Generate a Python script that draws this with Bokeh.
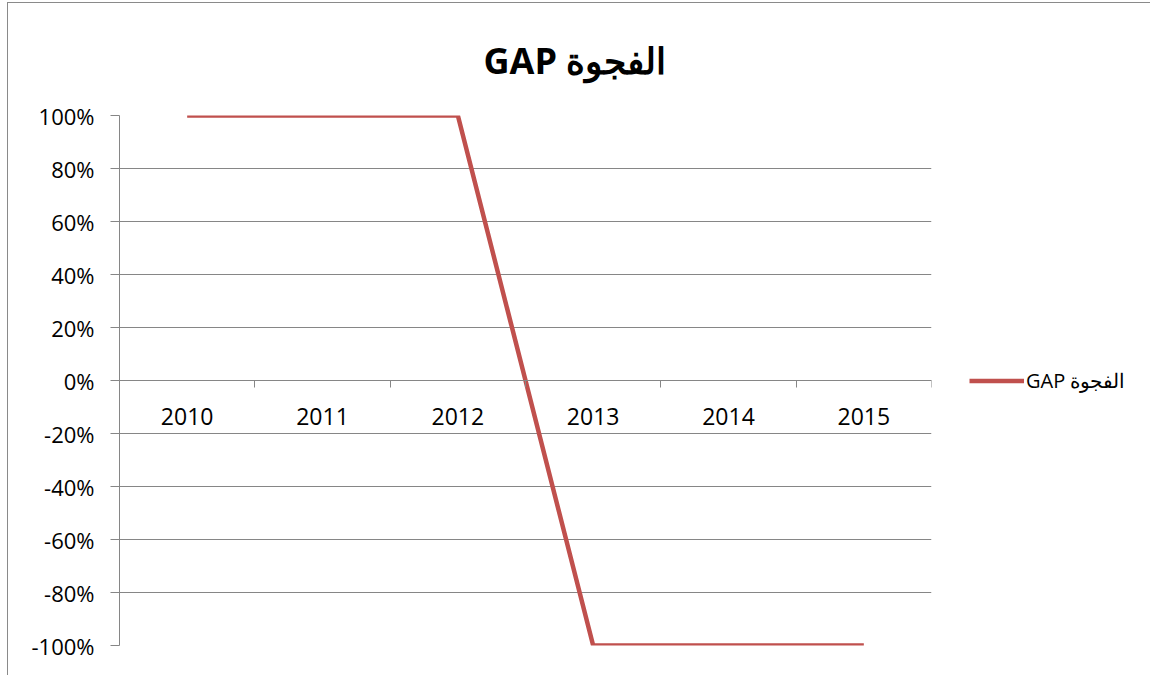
from bokeh.plotting import figure
from bokeh.models import (LinearAxis, FixedTicker, NumeralTickFormatter, Legend,
                          LegendItem, Range1d)
from bokeh.embed import file_html
from bokeh.resources import INLINE

# ---- data ----
years = ["2010", "2011", "2012", "2013", "2014", "2015"]
gap = [1.0, 1.0, 1.0, -1.0, -1.0, -1.0]
y_ticks = [-1.0, -0.8, -0.6, -0.4, -0.2, 0.0, 0.2, 0.4, 0.6, 0.8, 1.0]
series_name = "\u202Bالفجوة GAP\u202C"
title_text = "\u202Bالفجوة GAP\u202C"

idx = list(range(len(years)))
boundaries = [i + 0.5 for i in idx]

GRID = "#868686"
LINE = "#C0504D"
FONT = "Open Sans"

p = figure(frame_width=812, frame_height=530, output_backend="svg", toolbar_location=None,
           x_range=Range1d(-0.5, len(years) - 0.5), y_range=Range1d(-1.0, 1.0),
           min_border_left=111, min_border_right=220, min_border_top=111,
           min_border_bottom=30, x_axis_location=None, y_axis_location=None)

p.background_fill_color = "white"
p.border_fill_color = "white"
p.outline_line_color = None
p.styles = {"border-left": "1px solid #8a8a8a", "border-top": "1px solid #8a8a8a",
            "border-bottom": "1px solid #8a8a8a", "margin-left": "7px",
            "margin-top": "2px"}

# title
p.title.text = title_text
p.title.align = "left"
p.title.offset = 364
p.title.text_font = FONT
p.title.text_font_size = "36px"
p.title.text_font_style = "bold"
p.title.text_color = "black"
p.title.standoff = 61

# y axis
yax = LinearAxis(ticker=FixedTicker(ticks=y_ticks),
                 formatter=NumeralTickFormatter(format="0%"))
yax.axis_line_color = GRID
yax.axis_line_width = 1
yax.major_tick_line_color = GRID
yax.major_tick_out = 9
yax.major_tick_in = 0
yax.minor_tick_line_color = None
yax.major_label_text_font = FONT
yax.major_label_text_font_size = "22px"
yax.major_label_text_color = "black"
yax.major_label_standoff = 16
p.add_layout(yax, "left")

# grid
p.ygrid.ticker = FixedTicker(ticks=y_ticks)
p.ygrid.grid_line_color = GRID
p.ygrid.grid_line_width = 1
p.xgrid.grid_line_color = None

# x axis at zero: ticks between categories
xax_ticks = LinearAxis(ticker=FixedTicker(ticks=boundaries), fixed_location=0)
xax_ticks.axis_line_color = GRID
xax_ticks.major_tick_line_color = GRID
xax_ticks.major_tick_out = 7
xax_ticks.major_tick_in = 0
xax_ticks.minor_tick_line_color = None
xax_ticks.major_label_text_alpha = 0
xax_ticks.major_label_text_font_size = "1px"
p.add_layout(xax_ticks, "below")

# x labels at category centers
xax_labels = LinearAxis(ticker=FixedTicker(ticks=idx), fixed_location=0)
xax_labels.axis_line_color = None
xax_labels.major_tick_line_color = None
xax_labels.minor_tick_line_color = None
xax_labels.major_label_overrides = {i: y for i, y in zip(idx, years)}
xax_labels.major_label_text_font = FONT
xax_labels.major_label_text_font_size = "23px"
xax_labels.major_label_text_color = "black"
xax_labels.major_label_standoff = 21
p.add_layout(xax_labels, "below")

r = p.line(idx, gap, line_color=LINE, line_width=4.5)

legend = Legend(items=[LegendItem(label=series_name, renderers=[r])],
                location="center_left", orientation="vertical")
legend.border_line_color = None
legend.background_fill_alpha = 0
legend.padding = 2
legend.margin = 38
legend.glyph_width = 55
legend.label_standoff = 2
legend.label_text_font = FONT
legend.label_text_font_size = "20px"
legend.label_text_color = "black"
p.add_layout(legend, "right")

open("out.html", "w").write(file_html(p, INLINE))
